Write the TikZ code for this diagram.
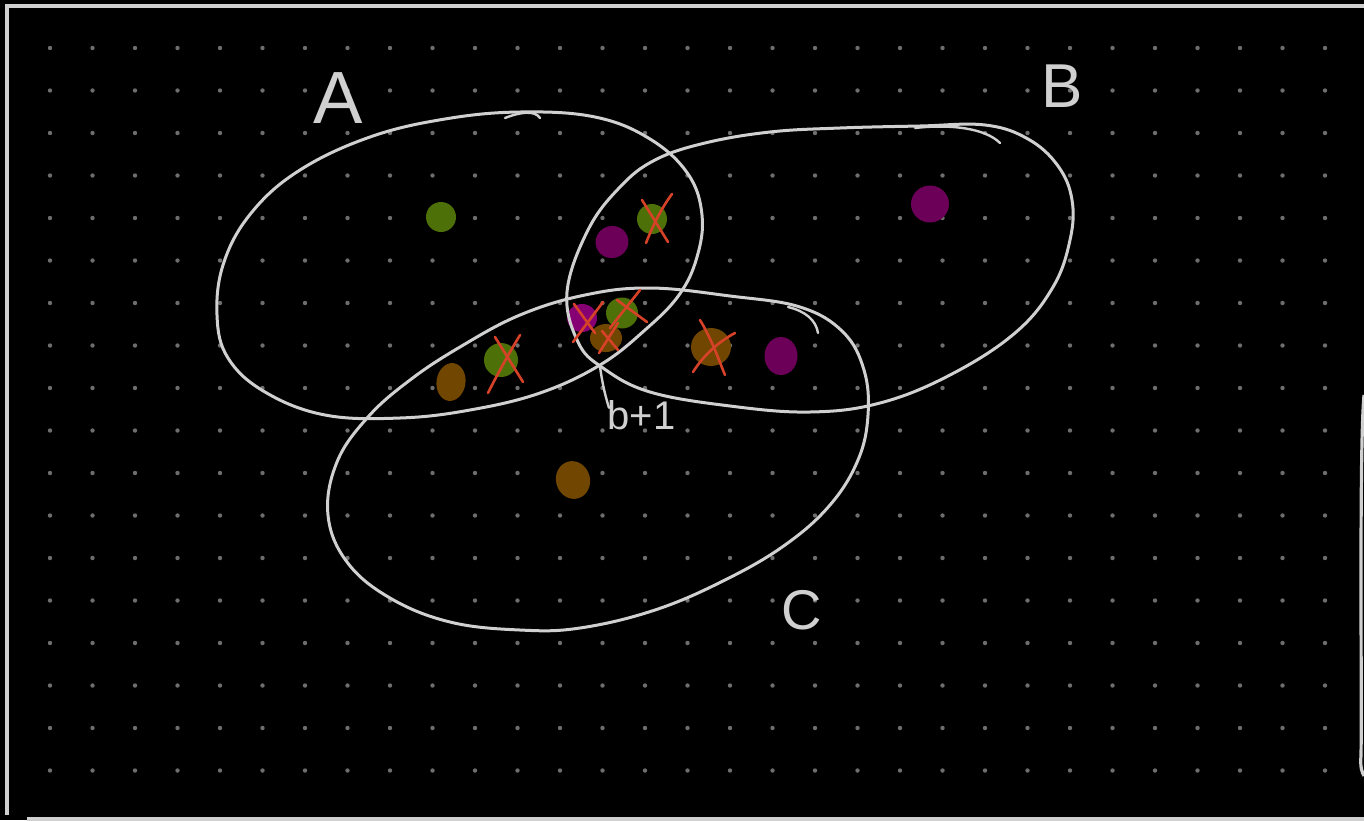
\documentclass[tikz,border=0pt]{standalone}
\usepackage{fontspec}
\setmainfont{Liberation Sans}
\usetikzlibrary{shapes.geometric}
\definecolor{chalk}{RGB}{208,208,208}
\definecolor{gridgray}{RGB}{110,110,110}
\definecolor{blobgreen}{RGB}{78,112,8}
\definecolor{blobpurple}{RGB}{108,0,88}
\definecolor{blobmagenta}{RGB}{135,0,115}
\definecolor{blobbrown}{RGB}{112,70,0}
\definecolor{crossred}{RGB}{214,66,40}
\tikzset{
  chalkline/.style={draw=chalk, line width=1.5pt, line cap=round, line join=round},
  frameline/.style={draw=chalk, line width=1.6pt},
  blob/.style={ellipse, draw=none, inner sep=0pt},
  crossmark/.style={draw=crossred, line width=1.3pt, line cap=round},
  handlabel/.style={text=chalk, inner sep=0pt}
}
\begin{document}
\begin{tikzpicture}[x=0.5pt, y=-0.5pt]
\useasboundingbox (0,0) rectangle (1364,820);
\fill[black] (0,0) rectangle (1364,820);
% dot grid
\foreach \i in {0,...,30} {
  \foreach \j in {0,...,17} {
    \fill[gridgray] ({50+42.5*\i},{48+42.5*\j}) circle (2.2);
  }
}
% frame
\draw[frameline] (1364,6) -- (7,6) -- (7,815);
\draw[frameline] (27,819) -- (1364,819);
\draw[frameline] (1364,395) .. controls (1359,450) and (1362,700) .. (1361,755) .. controls (1360,768) and (1362,772) .. (1364,776);
% blobs
\node[blob, fill=blobgreen, minimum width=15pt, minimum height=15pt] (g1) at (441,217) {};
\node[blob, fill=blobpurple, minimum width=16.5pt, minimum height=16pt, rotate=20] (p1) at (612,242) {};
\node[blob, fill=blobgreen, minimum width=15pt, minimum height=15pt] (g2) at (652,219) {};
\node[blob, fill=blobpurple, minimum width=19pt, minimum height=18.5pt] (p2) at (930,204) {};
\node[blob, fill=blobmagenta, minimum width=15pt, minimum height=14pt] (p3) at (582,318) {};
\node[blob, fill=blobgreen, minimum width=16pt, minimum height=15.5pt] (g3) at (622,313) {};
\node[blob, fill=blobbrown, minimum width=16pt, minimum height=14pt] (o1) at (606,338) {};
\node[blob, fill=blobbrown, minimum width=20pt, minimum height=19pt] (o2) at (711,347) {};
\node[blob, fill=blobpurple, minimum width=16.5pt, minimum height=19pt] (p4) at (781,356) {};
\node[blob, fill=blobgreen, minimum width=17pt, minimum height=17pt] (g4) at (501,360) {};
\node[blob, fill=blobbrown, minimum width=14.5pt, minimum height=19pt, rotate=-8] (o3) at (451,382) {};
\node[blob, fill=blobbrown, minimum width=17pt, minimum height=19pt, rotate=15] (o4) at (573,480) {};
% set A
\draw[chalkline] plot[smooth cycle, tension=0.65] coordinates {
 (217,315) (224,262) (252,212) (300,170) (370,137) (445,119) (520,112)
 (595,117) (650,139) (688,174) (702,215) (697,257) (679,295) (645,330)
 (600,365) (540,393) (470,410) (400,418) (325,415) (265,392) (228,358)};
\draw[chalkline, line width=1.2pt] (505,118) .. controls (520,112) and (535,110) .. (540,118);
% set B
\draw[chalkline] plot[smooth cycle, tension=0.65] coordinates {
 (567,292) (578,342) (603,368) (650,392) (730,406) (810,412)
 (880,403) (950,375) (1015,333) (1053,287) (1070,240) (1072,200)
 (1058,166) (1028,139) (985,125) (920,126) (840,128) (770,132)
 (705,143) (655,160) (620,187) (588,230)};
\draw[chalkline, line width=1.2pt] (915,128) .. controls (950,124) and (985,128) .. (1000,143);
% set C
\draw[chalkline] plot[smooth cycle, tension=0.65] coordinates {
 (328,515) (337,462) (368,417) (410,380) (460,347) (520,315) (585,295)
 (650,288) (730,296) (800,307) (843,332) (864,370) (868,415) (858,460)
 (830,505) (785,545) (725,580) (655,610) (580,628) (520,630) (450,622)
 (390,598) (347,562)};
\draw[chalkline, line width=1.2pt] (788,307) .. controls (805,311) and (816,320) .. (818,333);
% crosses
\draw[crossmark] (642,200) -- (668,242);
\draw[crossmark] (672,194) .. controls (660,210) and (652,228) .. (646,243);
\draw[crossmark] (603,302) -- (573,342);
\draw[crossmark] (574,304) -- (595,333);
\draw[crossmark] (640,290) -- (610,328);
\draw[crossmark] (617,300) -- (647,322);
\draw[crossmark] (599,353) -- (618,323);
\draw[crossmark] (602,331) -- (618,350);
\draw[crossmark] (700,320) .. controls (712,340) and (718,358) .. (725,375);
\draw[crossmark] (735,333) .. controls (718,342) and (703,356) .. (693,372);
\draw[crossmark] (495,337) -- (523,382);
\draw[crossmark] (520,335) .. controls (508,355) and (497,375) .. (488,393);
% labels
\node[handlabel, font=\fontsize{37}{37}\selectfont] (labA) at (338,98) {A};
\node[handlabel, font=\fontsize{31}{31}\selectfont] (labB) at (1062,86) {B};
\node[handlabel, font=\fontsize{28}{28}\selectfont] (labC) at (802,610) {C};
\coordinate (bp) at (600,367);
\node[handlabel, font=\fontsize{20}{20}\selectfont, anchor=south west] (labb) at (607,430) {b+1};
\draw[chalkline, line width=1.2pt] (bp) .. controls (602,380) and (604,392) .. ([xshift=1pt,yshift=-4pt]labb.north west);
\end{tikzpicture}
\end{document}
